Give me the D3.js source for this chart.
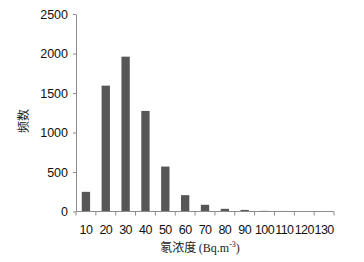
<!DOCTYPE html>
<html>
<head>
<meta charset="utf-8">
<script src="https://cdn.jsdelivr.net/npm/d3@7"></script>
<style>
  body { margin: 0; background: #fff; }
  text { font-family: "Liberation Sans", Arial, sans-serif; }
</style>
</head>
<body>
<div id="chart"></div>
<script>
var categories = ["10","20","30","40","50","60","70","80","90","100","110","120","130"];
var counts = [249, 1593, 1960, 1273, 569, 207, 85, 34, 20, 8, 7, 6, 6];
var yTicks = [0, 500, 1000, 1500, 2000, 2500];

var width = 364, height = 262;
var margin = {left: 76, right: 30, top: 14, bottom: 50};

var svg = d3.select("#chart").append("svg")
  .attr("width", width)
  .attr("height", height);

var x = d3.scaleBand()
  .domain(categories)
  .range([margin.left, 334])
  .paddingInner(0.58)
  .paddingOuter(0.29);

var y = d3.scaleLinear()
  .domain([0, 2500])
  .range([211.5, margin.top]);

var axisColor = "#8c8c8c";

// bars
svg.append("g")
  .selectAll("rect")
  .data(counts)
  .enter().append("rect")
  .attr("x", function(d, i) { return x(categories[i]); })
  .attr("y", function(d) { return y(d); })
  .attr("width", x.bandwidth())
  .attr("height", function(d) { return y(0) - y(d); })
  .attr("fill", "#575757");

// y axis
var yAxis = svg.append("g")
  .attr("transform", "translate(" + margin.left + ",0)")
  .call(d3.axisLeft(y).tickValues(yTicks).tickFormat(d3.format("d")).tickSize(3).tickSizeOuter(0).tickPadding(5));
yAxis.selectAll("path, line").attr("stroke", axisColor);
yAxis.selectAll("text").attr("font-size", 12.5).attr("fill", "#111");

// x axis: ticks at the category boundaries
var bounds = d3.range(categories.length + 1).map(function(i) { return margin.left + i * (334 - margin.left) / categories.length; });
var xg = svg.append("g");
xg.append("line")
  .attr("x1", margin.left).attr("x2", 334)
  .attr("y1", y(0)).attr("y2", y(0))
  .attr("stroke", axisColor);
xg.selectAll(".tk")
  .data(bounds)
  .enter().append("line")
  .attr("x1", function(d) { return d; })
  .attr("x2", function(d) { return d; })
  .attr("y1", y(0))
  .attr("y2", y(0) + 4)
  .attr("stroke", axisColor);
xg.selectAll(".lbl")
  .data(categories)
  .enter().append("text")
  .attr("x", function(d) { return x(d) + x.bandwidth() / 2; })
  .attr("y", 233.5)
  .attr("text-anchor", "middle")
  .attr("font-size", 12.5)
  .attr("letter-spacing", -0.6)
  .attr("fill", "#111")
  .text(function(d) { return d; });

// axis titles
var xt = svg.append("text")
  .attr("x", 200)
  .attr("y", 252)
  .attr("text-anchor", "middle")
  .attr("font-size", 12)
  .attr("fill", "#222")
  .style("font-family", "'Noto Sans CJK SC', 'Liberation Serif', serif");
xt.append("tspan").text("氡浓度 ");
xt.append("tspan").style("font-family", "'Liberation Serif', serif").text("(Bq.m");
xt.append("tspan").style("font-family", "'Liberation Serif', serif").attr("font-size", 8).attr("dy", -5).text("-3");
xt.append("tspan").style("font-family", "'Liberation Serif', serif").attr("dy", 5).text(")");

svg.append("text")
  .attr("transform", "translate(28,121) rotate(-90)")
  .attr("text-anchor", "middle")
  .attr("font-size", 12)
  .attr("fill", "#222")
  .style("font-family", "'Noto Sans CJK SC', serif")
  .text("频数");
</script>
</body>
</html>
